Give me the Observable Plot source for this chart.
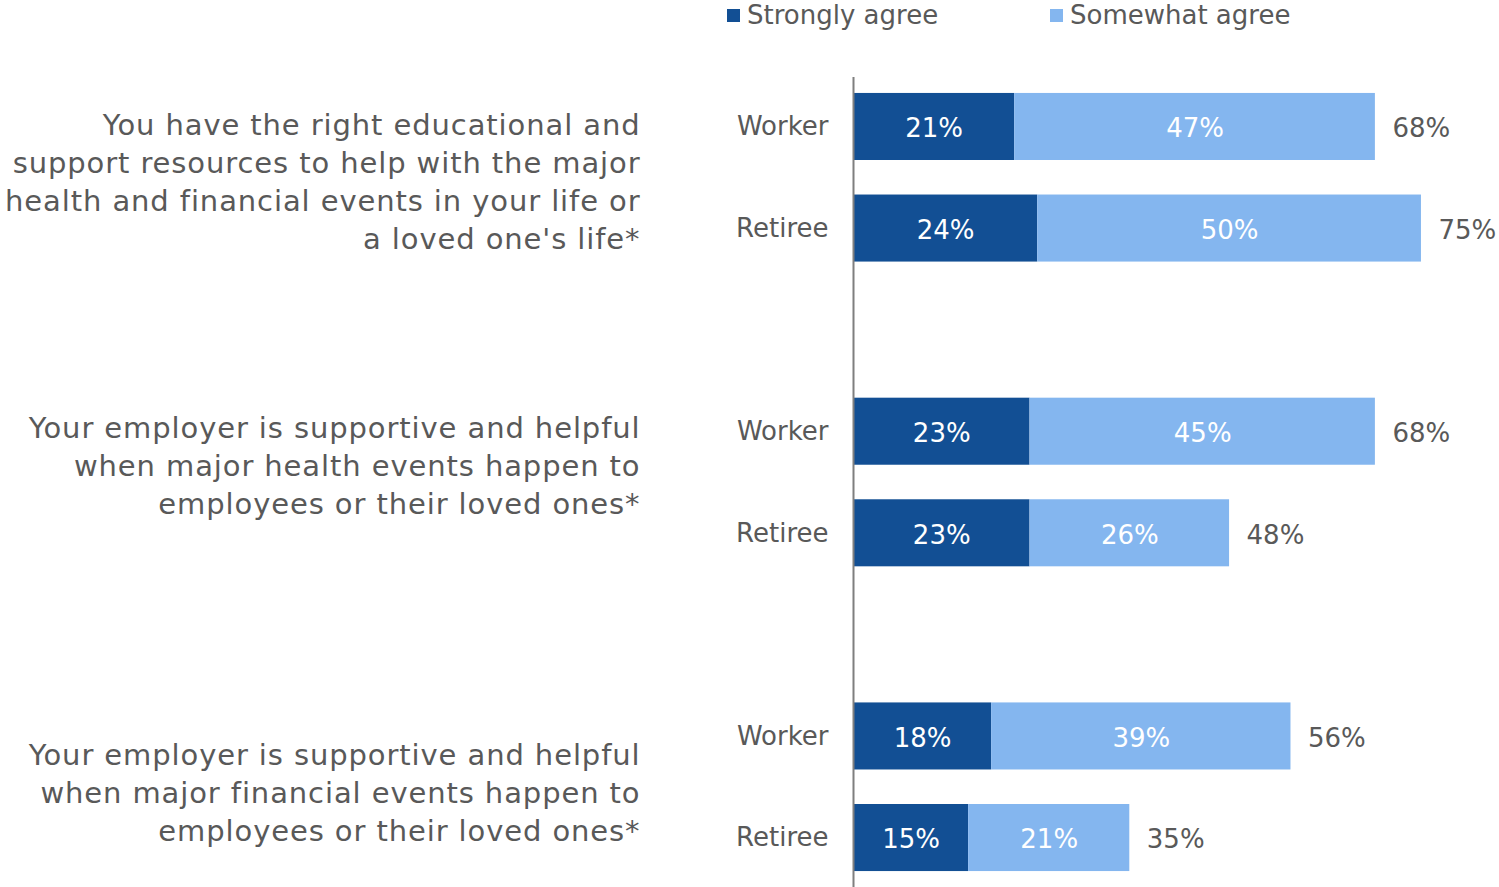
<!DOCTYPE html>
<html><head><meta charset="utf-8">
<script src="https://cdn.jsdelivr.net/npm/d3@7"></script>
<script src="https://cdn.jsdelivr.net/npm/@observablehq/plot@0.6"></script>
<style>
body{margin:0;background:#fff;font-family:"DejaVu Sans",sans-serif;color:#595959;}
#legend{position:relative;height:30px;width:1499px;}
.sw{position:absolute;top:9px;width:13px;height:13px;}
.lt{position:absolute;top:0px;font-size:26px;line-height:30px;white-space:nowrap;}
</style></head><body>
<div id="legend"></div><div id="chart"></div>
<script>
const questions = [
  "You have the right educational and\nsupport resources to help with the major\nhealth and financial events in your life or\na loved one's life*",
  "Your employer is supportive and helpful\nwhen major health events happen to\nemployees or their loved ones*",
  "Your employer is supportive and helpful\nwhen major financial events happen to\nemployees or their loved ones*"
];
const respondents = ["Worker", "Retiree"];
const series = ["Strongly agree", "Somewhat agree"];
const colors = ["#124f94", "#84b6ef"];
const strongly = [21, 24, 23, 23, 18, 15];
const somewhat = [47, 50, 45, 26, 39, 21];
const totals = [68, 75, 68, 48, 56, 35];

const rows = [];
questions.forEach((q, qi) => respondents.forEach((r, ri) => {
  const i = qi * 2 + ri;
  rows.push({key: qi + "|" + r, q: qi, r, s: strongly[i], m: somewhat[i], t: totals[i]});
}));
const segs = rows.flatMap(d => [
  {key: d.key, series: series[0], value: d.s},
  {key: d.key, series: series[1], value: d.m}
]);
const domain = [];
questions.forEach((q, qi) => {
  respondents.forEach(r => domain.push(qi + "|" + r));
  if (qi < questions.length - 1) domain.push("gap" + qi);
});

// legend
const leg = document.getElementById("legend");
const legX = [[727, 747], [1050, 1070]];
series.forEach((s, i) => {
  const sw = document.createElement("div"); sw.className = "sw";
  sw.style.left = legX[i][0] + "px"; sw.style.background = colors[i]; leg.appendChild(sw);
  const t = document.createElement("div"); t.className = "lt";
  t.style.left = legX[i][1] + "px"; t.textContent = s; leg.appendChild(t);
});

const k = 7.675;
const qMark = (qi, dy) => Plot.text([questions[qi]], {
  x: () => 0, y: () => qi + "|Worker", text: d => d, textAnchor: "end", lineAnchor: "middle",
  dx: -213, dy, fontSize: 29, lineHeight: 1.31, fill: "#595959", ariaDescription: "question"
});

const chart = Plot.plot({
  width: 1499, height: 857,
  marginLeft: 853, marginRight: 0, marginTop: 47, marginBottom: 0,
  style: {fontFamily: "DejaVu Sans, sans-serif", background: "#fff"},
  x: {domain: [0, 646 / k], axis: null},
  y: {domain, axis: null, paddingInner: 0.34, paddingOuter: 0.157, round: false},
  color: {domain: series, range: colors},
  marks: [
    Plot.barX(segs, {x: "value", y: "key", fill: "series", order: series}),
    Plot.ruleX([0], {stroke: "#7f7f7f", strokeWidth: 2}),
    Plot.text(segs, Plot.stackX({x: "value", y: "key", z: "series", order: series, text: d => d.value + "%", fill: "#fff", fontSize: 26, dy: 2})),
    Plot.text(rows, {x: d => d.s + d.m, y: "key", text: d => d.t + "%", textAnchor: "start", dx: 17, dy: 2, fill: "#595959", fontSize: 26}),
    Plot.text(rows, {x: () => 0, y: "key", text: "r", textAnchor: "end", dx: -25, fill: "#595959", fontSize: 26}),
    qMark(0, 52.5), qMark(1, 32), qMark(2, 54)
  ]
});
d3.select(chart).selectAll('g[aria-description="question"] text').style("letter-spacing", "0.9px");
document.getElementById("chart").appendChild(chart);
</script>
</body></html>
